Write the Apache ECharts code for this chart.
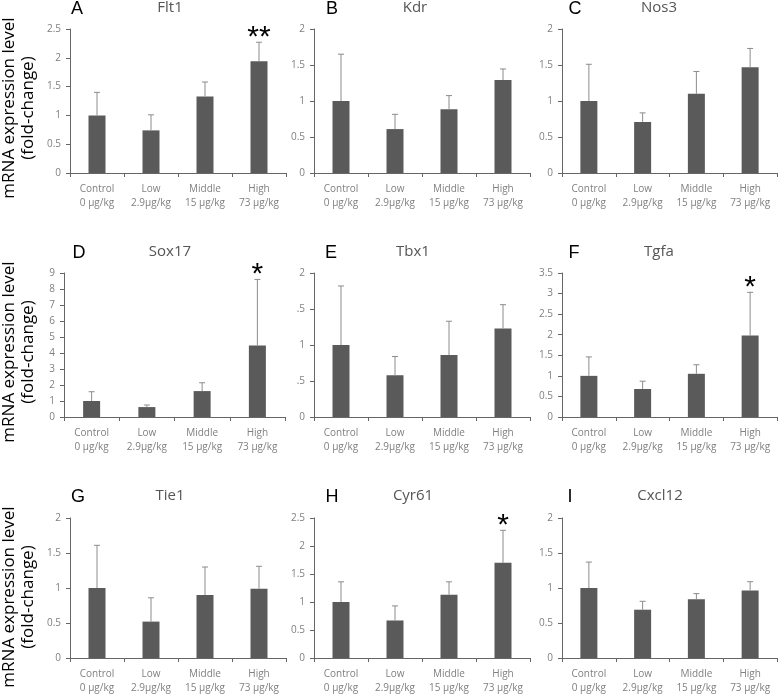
<!DOCTYPE html>
<html><head><meta charset="utf-8">
<script src="https://cdn.jsdelivr.net/npm/echarts@6/dist/echarts.min.js"></script>
<style>html,body{margin:0;padding:0;background:#fff}#c{width:778px;height:695px}</style>
</head><body><div id="c"></div>
<script>
const categories = ['Control\n0 μg/kg', 'Low\n2.9μg/kg', 'Middle\n15 μg/kg', 'High\n73 μg/kg'];
const genes = ['Flt1', 'Kdr', 'Nos3', 'Sox17', 'Tbx1', 'Tgfa', 'Tie1', 'Cyr61', 'Cxcl12'];
const letters = ['A', 'B', 'C', 'D', 'E', 'F', 'G', 'H', 'I'];
const yMax = [2.5, 2, 2, 9, 2, 3.5, 2, 2.5, 2];
const yStep = [0.5, 0.5, 0.5, 1, 0.5, 0.5, 0.5, 0.5, 0.5];

const flt1Mean = [1.0, 0.74, 1.33, 1.94];   const flt1Upper = [1.40, 1.01, 1.58, 2.27];
const kdrMean = [1.0, 0.61, 0.885, 1.29];   const kdrUpper = [1.65, 0.815, 1.075, 1.445];
const nos3Mean = [1.0, 0.71, 1.10, 1.47];   const nos3Upper = [1.51, 0.835, 1.41, 1.73];
const sox17Mean = [1.0, 0.62, 1.62, 4.47];  const sox17Upper = [1.58, 0.75, 2.14, 8.6];
const tbx1Mean = [1.0, 0.58, 0.86, 1.23];   const tbx1Upper = [1.82, 0.84, 1.33, 1.56];
const tgfaMean = [1.0, 0.68, 1.05, 1.98];   const tgfaUpper = [1.46, 0.87, 1.27, 3.03];
const tie1Mean = [1.0, 0.52, 0.90, 0.99];   const tie1Upper = [1.61, 0.86, 1.30, 1.31];
const cyr61Mean = [1.0, 0.67, 1.13, 1.70];  const cyr61Upper = [1.36, 0.93, 1.36, 2.28];
const cxcl12Mean = [1.0, 0.69, 0.84, 0.965]; const cxcl12Upper = [1.37, 0.81, 0.92, 1.09];

const flt1Stars = ['', '', '', '**'];
const sox17Stars = ['', '', '', '*'];
const tgfaStars = ['', '', '', '*'];
const cyr61Stars = ['', '', '', '*'];
const noStars = ['', '', '', ''];

const means = [flt1Mean, kdrMean, nos3Mean, sox17Mean, tbx1Mean, tgfaMean, tie1Mean, cyr61Mean, cxcl12Mean];
const uppers = [flt1Upper, kdrUpper, nos3Upper, sox17Upper, tbx1Upper, tgfaUpper, tie1Upper, cyr61Upper, cxcl12Upper];
const stars = [flt1Stars, noStars, noStars, sox17Stars, noStars, tgfaStars, noStars, cyr61Stars, noStars];
// panel E's tick labels appear clipped in the source
const clippedTicks = [false, false, false, false, true, false, false, false, false];

// layout
const gridLeft = [70, 314, 562, 64, 314, 562, 70, 314, 562];
const gridWidth = [216, 216, 215, 221, 216, 215, 216, 216, 215];
const rowTop = [29, 273, 518];
const gridHeight = 144;
const titleX = [170, 415, 659, 170, 413, 659, 170, 413, 660];
const letterX = [77, 332, 575, 79, 331, 574, 78, 332, 570];
const titleY = [8, 252, 496];

const FONT = "'Open Sans', 'Liberation Sans', sans-serif";
const grid = [], xAxis = [], yAxis = [], series = [], graphic = [];

for (let i = 0; i < 9; i++) {
  const row = Math.floor(i / 3);
  grid.push({ left: gridLeft[i], top: rowTop[row], width: gridWidth[i], height: gridHeight, containLabel: false });
  xAxis.push({
    type: 'category', gridIndex: i, data: categories, boundaryGap: true,
    axisLine: { lineStyle: { color: '#666', width: 1 } },
    axisTick: { show: true, length: 4, alignWithLabel: false, lineStyle: { color: '#666' } },
    axisLabel: { color: '#808080', fontSize: 10, fontFamily: FONT, margin: 9, lineHeight: 14, interval: 0 }
  });
  const clip = clippedTicks[i];
  yAxis.push({
    type: 'value', gridIndex: i, min: 0, max: yMax[i], interval: yStep[i],
    splitLine: { show: false },
    axisLine: { show: true, lineStyle: { color: '#666', width: 1 } },
    axisTick: { show: true, length: 4, lineStyle: { color: '#666' } },
    axisLabel: {
      color: '#808080', fontSize: 10, fontFamily: FONT, margin: 9,
      formatter: v => clip && (v % 1 !== 0) ? String(v).replace(/^\d/, '') : String(v)
    }
  });
  series.push({
    type: 'bar', xAxisIndex: i, yAxisIndex: i, data: means[i], barWidth: 17,
    itemStyle: { color: '#5a5a5a' }, silent: true, z: 2
  });
  const errData = means[i].map((m, k) => [k, m, uppers[i][k], stars[i][k]]);
  series.push({
    type: 'custom', xAxisIndex: i, yAxisIndex: i, data: errData, z: 3, silent: true,
    renderItem: function (params, api) {
      const k = api.value(0);
      const p0 = api.coord([k, api.value(1)]);
      const p1 = api.coord([k, api.value(2)]);
      const st = errData[params.dataIndex][3];
      const children = [
        { type: 'line', shape: { x1: p0[0], y1: p0[1], x2: p1[0], y2: p1[1] }, style: { stroke: '#8c8c8c', lineWidth: 1 } },
        { type: 'line', shape: { x1: p1[0] - 3, y1: p1[1], x2: p1[0] + 3, y2: p1[1] }, style: { stroke: '#8c8c8c', lineWidth: 1 } }
      ];
      if (st) {
        children.push({ type: 'text', style: { text: st, x: p1[0], y: p1[1] - 5, align: 'center', verticalAlign: 'middle', fontSize: 30, fontFamily: "'Liberation Sans', Arial, sans-serif", fill: '#000' } });
      }
      return { type: 'group', children: children };
    }
  });
  graphic.push({ type: 'text', x: titleX[i], y: titleY[row], style: { text: genes[i], fontSize: 15, fontFamily: FONT, fill: '#555', align: 'center', verticalAlign: 'middle' } });
  graphic.push({ type: 'text', x: letterX[i], y: titleY[row] + 1, style: { text: letters[i], fontSize: 18, fontFamily: "'Liberation Sans', Arial, sans-serif", fill: '#000', align: 'center', verticalAlign: 'middle' } });
}

const yNameCenter = [108, 352, 597];
for (let r = 0; r < 3; r++) {
  graphic.push({ type: 'text', x: 9, y: yNameCenter[r], rotation: Math.PI / 2,
    style: { text: 'mRNA expression level', fontSize: 17, fontFamily: FONT, fill: '#000', align: 'center', verticalAlign: 'middle' } });
  graphic.push({ type: 'text', x: 28, y: yNameCenter[r], rotation: Math.PI / 2,
    style: { text: '(fold-change)', fontSize: 17, fontFamily: FONT, fill: '#000', align: 'center', verticalAlign: 'middle' } });
}

const chart = echarts.init(document.getElementById('c'), null, { renderer: 'canvas' });
chart.setOption({ animation: false, grid, xAxis, yAxis, series, graphic });
</script></body></html>
